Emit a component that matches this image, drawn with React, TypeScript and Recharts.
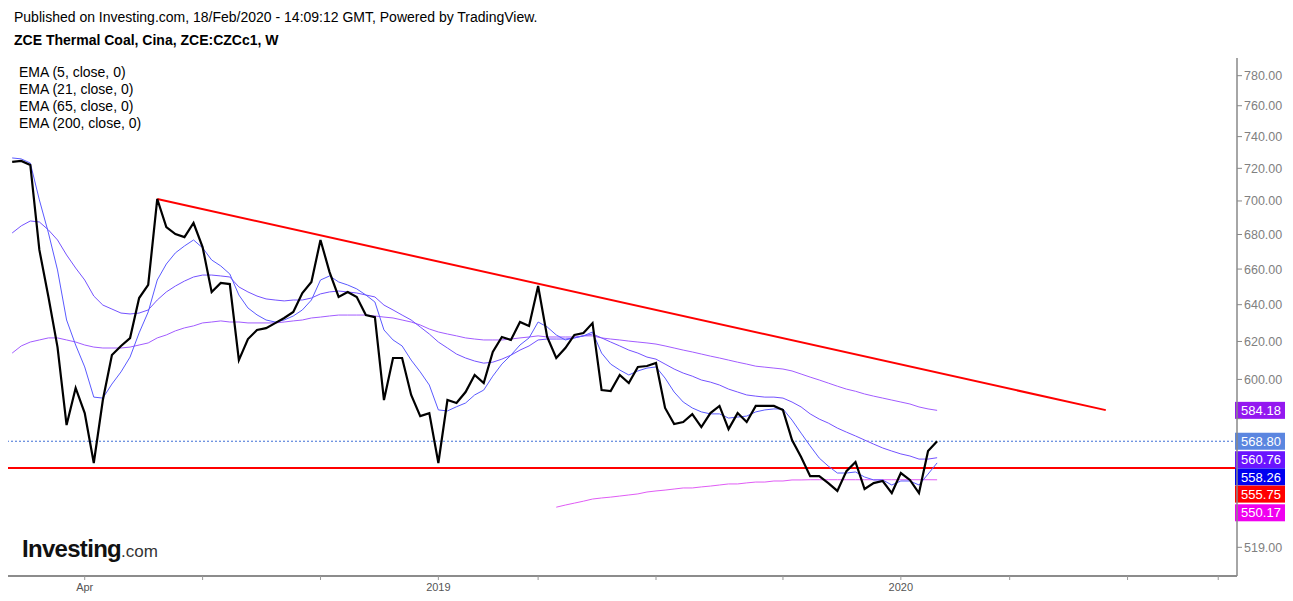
import { LineChart, Line, XAxis, YAxis, ReferenceLine } from 'recharts'

// weekly closes, ZCE thermal coal (first bar ~ end of Jan 2018, last bar Feb 2020)
const closes = [
  724.0, 724.6, 722.1, 671.0, 644.3, 617.0, 576.8, 595.6, 582.8, 558.2,
  589.4, 612.8, 617.6, 621.8, 643.7, 651.0, 701.2, 684.4, 680.3, 678.5,
  686.8, 672.7, 647.0, 652.1, 651.5, 610.1, 621.3, 626.2, 627.2, 629.9,
  632.7, 636.0, 646.5, 652.7, 676.8, 658.3, 644.3, 647.0, 644.3, 634.3,
  633.2, 589.4, 611.2, 611.2, 592.0, 581.3, 582.8, 558.2, 589.4, 587.9,
  593.5, 602.3, 598.1, 614.4, 622.4, 620.8, 630.5, 628.3, 650.4, 622.4,
  611.2, 616.5, 623.5, 624.5, 629.9, 594.5, 594.0, 602.3, 598.1, 606.5,
  607.0, 608.6, 585.4, 577.3, 578.3, 582.3, 575.8, 582.8, 586.4, 574.8,
  582.8, 578.3, 586.4, 586.4, 586.4, 584.3, 569.4, 561.1, 551.9, 551.9,
  548.6, 544.9, 554.3, 558.7, 545.8, 548.6, 549.6, 543.9, 553.4, 550.1,
  543.9, 564.0, 568.8,
]

const ema5 = [
  726.5, 725.9, 723.3, 700.6, 680.9, 659.5, 631.6, 618.1, 606.5, 590.9,
  590.4, 597.6, 603.9, 611.7, 624.6, 636.0, 653.8, 662.9, 669.3, 673.3,
  676.8, 672.2, 665.2, 661.8, 657.2, 645.4, 638.2, 634.4, 631.6, 630.5,
  631.6, 633.8, 637.1, 642.6, 653.8, 656.1, 652.7, 651.0, 648.8, 645.4,
  641.5, 626.2, 620.8, 617.6, 610.1, 603.9, 597.1, 584.4, 583.9, 586.0,
  587.9, 592.0, 594.5, 601.7, 608.0, 612.7, 618.1, 621.9, 630.5, 627.8,
  623.5, 620.8, 621.9, 623.0, 625.1, 613.8, 608.0, 604.9, 602.3, 604.4,
  605.9, 606.5, 600.7, 593.5, 588.4, 585.4, 583.4, 582.4, 582.4, 580.3,
  580.8, 581.3, 583.4, 584.4, 584.9, 584.9, 579.3, 572.8, 566.5, 560.6,
  556.7, 553.4, 553.4, 553.9, 551.5, 550.1, 550.1, 547.7, 549.6, 549.6,
  547.7, 552.9, 558.26,
]

const ema21 = [
  680.9, 685.1, 688.0, 687.4, 682.7, 676.8, 668.1, 660.6, 653.8, 644.8,
  639.8, 637.6, 635.4, 634.9, 635.4, 637.1, 642.6, 647.1, 650.4, 653.2,
  655.5, 656.6, 656.6, 656.1, 655.5, 649.9, 647.1, 644.8, 643.2, 642.6,
  642.1, 642.6, 642.6, 643.7, 646.0, 647.1, 647.6, 647.1, 646.5, 645.4,
  644.3, 639.8, 637.1, 634.3, 631.6, 627.8, 624.0, 619.7, 616.5, 613.3,
  611.2, 609.6, 608.5, 609.0, 610.6, 612.7, 615.4, 617.6, 620.8, 621.3,
  621.3, 621.3, 621.9, 623.0, 624.0, 621.9, 619.7, 617.6, 615.4, 613.8,
  611.7, 610.6, 608.0, 605.4, 603.3, 601.7, 599.7, 598.6, 597.1, 595.0,
  593.5, 592.0, 591.4, 590.9, 590.9, 590.4, 588.4, 585.9, 582.4, 579.8,
  577.8, 575.3, 573.3, 571.4, 569.4, 567.4, 565.5, 564.0, 562.6, 561.6,
  560.1, 560.1, 560.76,
]

const ema65 = [
  613.8, 617.6, 619.7, 620.8, 621.9, 621.9, 620.8, 619.7, 618.1, 617.0,
  616.5, 616.5, 616.5, 617.0, 618.1, 619.2, 621.9, 623.5, 625.7, 627.3,
  628.4, 630.0, 630.5, 631.1, 630.5, 630.5, 630.0, 630.0, 630.0, 630.0,
  630.5, 631.1, 631.6, 632.7, 633.2, 633.8, 634.3, 634.3, 634.3, 634.3,
  633.8, 633.2, 632.7, 631.6, 630.5, 628.9, 626.7, 625.1, 624.0, 623.0,
  621.9, 621.3, 620.8, 620.8, 620.8, 621.3, 621.9, 622.4, 623.0, 622.4,
  622.4, 622.4, 622.4, 623.0, 623.0, 621.9, 621.3, 620.8, 620.2, 619.7,
  619.2, 618.6, 617.6, 616.5, 615.4, 614.4, 613.3, 612.2, 611.2, 610.1,
  609.0, 608.0, 606.9, 606.4, 605.9, 605.4, 604.4, 602.8, 601.2, 599.7,
  598.1, 596.5, 595.0, 593.9, 592.5, 591.4, 590.4, 589.4, 588.4, 587.4,
  585.9, 584.9, 584.18,
]

// EMA 200 only shows up from bar 60 on
const EMA200_START = 60
const ema200 = [
  537.3, 538.3, 539.2, 540.1, 541.1, 541.6, 542.0, 542.5, 543.0, 543.5,
  544.4, 544.9, 545.3, 545.8, 546.3, 546.3, 546.8, 547.2, 547.7, 548.2,
  548.2, 548.7, 549.1, 549.1, 549.6, 549.6, 550.1, 550.1, 550.2, 550.2,
  550.2, 550.2, 550.2, 550.2, 550.2, 550.2, 550.2, 550.2, 550.2, 550.2,
  550.2, 550.2, 550.17,
]

// drawn lines: falling resistance and flat support
const trendX = [16, 120.6]
const trendY = [701.2, 584.3]
const supportLevel = 555.75
const lastClose = 568.8

const xTicks = [8, 21, 34, 47, 58, 71, 85, 98, 110, 123, 133]
const xTickLabels = ['Apr', '', '', '2019', '', '', '', '2020', '', '', '']
const yTicks = [519, 580, 600, 620, 640, 660, 680, 700, 720, 740, 760, 780]

const tagValues = [584.18, 568.8, 560.76, 558.26, 555.75, 550.17]
const tagColors = ['#9418f0', '#5b86e0', '#6a14ff', '#0000f0', '#ff0000', '#f000f0']
const tagShift = [0, 0, 2, 14, 26, 33]

const legend = ['EMA (5, close, 0)', 'EMA (21, close, 0)', 'EMA (65, close, 0)', 'EMA (200, close, 0)']

const data = closes.map((c, i) => ({
  i,
  close: c,
  ema5: ema5[i],
  ema21: ema21[i],
  ema65: ema65[i],
  ema200: i >= EMA200_START ? ema200[i - EMA200_START] : null,
}))

const FONT = '"Liberation Sans", Arial, sans-serif'

const TagLabel = (props: any) => {
  const { viewBox, text, color, shift } = props
  if (!viewBox) return null
  const right = viewBox.x + viewBox.width
  const y = viewBox.y + shift
  return (
    <g>
      <rect x={right - 2} y={y - 8.5} width={50} height={17} fill={color} />
      <text x={right + 24} y={y} dy="0.36em" textAnchor="middle" fill="#fff" fontSize={13} fontFamily={FONT}>
        {text}
      </text>
    </g>
  )
}

export default function App() {
  return (
    <div style={{ position: 'relative', width: 1285, height: 593, background: '#fff', fontFamily: FONT, color: '#000' }}>
      <div style={{ position: 'absolute', left: 6, top: 1, fontSize: 14, lineHeight: '16px', whiteSpace: 'nowrap' }}>
        Published on Investing.com, 18/Feb/2020 - 14:09:12 GMT, Powered by TradingView.
      </div>
      <div style={{ position: 'absolute', left: 6, top: 24, fontSize: 14, lineHeight: '16px', fontWeight: 'bold', whiteSpace: 'nowrap' }}>
        ZCE Thermal Coal, Cina, ZCE:CZCc1, W
      </div>

      <LineChart
        width={1278}
        height={593}
        data={data}
        margin={{ top: 50, right: 0, bottom: 0, left: 0 }}
        style={{ position: 'absolute', left: 0, top: 0 }}
      >
        <XAxis
          dataKey="i"
          type="number"
          domain={[-0.46, 135.07]}
          allowDataOverflow
          ticks={xTicks}
          interval={0}
          tickFormatter={(v: number) => xTickLabels[xTicks.indexOf(v)] ?? ''}
          height={25}
          tickSize={4}
          tickMargin={3}
          axisLine={{ stroke: '#666', strokeWidth: 1.5 }}
          tickLine={{ stroke: '#999' }}
          tick={{ fill: '#555', fontSize: 11, fontFamily: FONT }}
        />
        <YAxis
          orientation="right"
          scale="log"
          domain={[506.3, 792]}
          allowDataOverflow
          ticks={yTicks}
          interval={0}
          tickFormatter={(v: number) => (v === 580 ? '' : v.toFixed(2))}
          width={49}
          tickSize={5}
          tickMargin={2}
          axisLine={{ stroke: '#888', strokeWidth: 1.5 }}
          tickLine={{ stroke: '#888' }}
          tick={{ fill: '#808080', fontSize: 12.5, fontFamily: FONT }}
        />

        <ReferenceLine y={lastClose} stroke="#3f6fd6" strokeDasharray="2 2" strokeWidth={1} />
        <ReferenceLine y={supportLevel} stroke="#ff0000" strokeWidth={2} />
        <ReferenceLine
          segment={[
            { x: trendX[0], y: trendY[0] },
            { x: trendX[1], y: trendY[1] },
          ]}
          stroke="#ff0000"
          strokeWidth={2}
        />

        <Line type="linear" dataKey="ema200" stroke="#e05cf5" strokeWidth={1} dot={false} activeDot={false} isAnimationActive={false} />
        <Line type="linear" dataKey="ema65" stroke="#a25cff" strokeWidth={1} dot={false} activeDot={false} isAnimationActive={false} />
        <Line type="linear" dataKey="ema21" stroke="#7452ff" strokeWidth={1} dot={false} activeDot={false} isAnimationActive={false} />
        <Line type="linear" dataKey="ema5" stroke="#5a5aff" strokeWidth={1} dot={false} activeDot={false} isAnimationActive={false} />
        <Line type="linear" dataKey="close" stroke="#000" strokeWidth={2.2} dot={false} activeDot={false} isAnimationActive={false} />

        {tagValues.map((v, k) => (
          <ReferenceLine
            key={v}
            y={v}
            stroke="none"
            label={<TagLabel text={v.toFixed(2)} color={tagColors[k]} shift={tagShift[k]} />}
          />
        ))}
      </LineChart>

      <div style={{ position: 'absolute', left: 11, top: 56, fontSize: 14, lineHeight: '17px', whiteSpace: 'nowrap' }}>
        {legend.map((t) => (
          <div key={t}>{t}</div>
        ))}
      </div>

      <div style={{ position: 'absolute', left: 14, top: 529, whiteSpace: 'nowrap', lineHeight: 1 }}>
        <span style={{ fontSize: 24, fontWeight: 900, letterSpacing: -0.7, color: '#111' }}>Investing</span>
        <span style={{ fontSize: 17, color: '#333' }}>.com</span>
      </div>

      <div style={{ position: 'absolute', left: 1277, top: 50, width: 1.5, height: 543, background: '#000' }} />
    </div>
  )
}
